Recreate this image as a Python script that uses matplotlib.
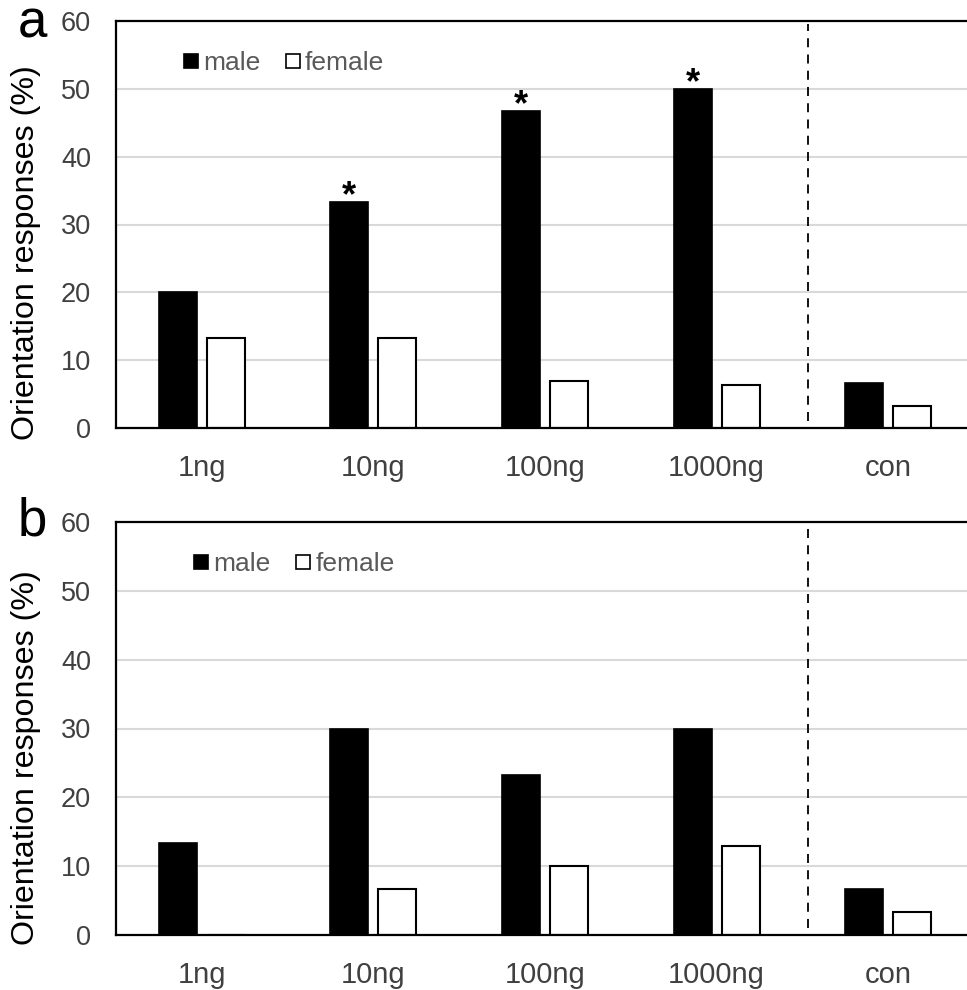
import matplotlib
matplotlib.use("Agg")
import matplotlib.pyplot as plt
import numpy as np
from matplotlib.lines import Line2D

categories = ["1ng", "10ng", "100ng", "1000ng", "con"]
male_a = [20.0, 33.3, 46.7, 50.0, 6.7]
female_a = [13.3, 13.3, 6.9, 6.3, 3.3]
male_b = [13.3, 30.0, 23.3, 30.0, 6.7]
female_b = [0.0, 6.7, 10.0, 13.0, 3.3]
star_a = [False, True, True, True, False]
star_b = [False, False, False, False, False]
yticks = [0, 10, 20, 30, 40, 50, 60]
panel_labels = ["a", "b"]

plt.rcParams['font.family'] = ['Liberation Sans', 'DejaVu Sans']

fig = plt.figure(figsize=(9.67, 9.90), dpi=100)
W, H = 967, 990

def add_panel(top_px, bottom_px, male, female, stars, label, label_base_px, leg_x):
    left = 116 / W
    right = 974 / W
    ax = fig.add_axes([left, 1 - bottom_px / H, right - left, (bottom_px - top_px) / H])
    x = np.arange(len(categories))
    bw = 0.222
    off = 0.14
    ax.bar(x - off, male, bw, color="black", edgecolor="black", linewidth=1.2, zorder=3)
    ax.bar(x + off, female, bw, color="white", edgecolor="black", linewidth=1.5, zorder=3)
    for xi, m, s in zip(x, male, stars):
        if s:
            ax.text(xi - off, m - 0.6, "*", ha="center", va="baseline", fontsize=26,
                    fontweight="bold", color="black", zorder=4)
    ax.set_xlim(-0.5, 4.5)
    ax.set_ylim(0, 60)
    ax.set_yticks(yticks)
    ax.set_xticks(x)
    ax.set_xticklabels(categories)
    ax.tick_params(axis="y", length=0, pad=18, labelsize=19.5, labelcolor="#404040")
    ax.tick_params(axis="x", length=0, pad=19, labelsize=21, labelcolor="#404040")
    ax.grid(axis="y", color="#d9d9d9", linewidth=1.5, zorder=0)
    ax.set_axisbelow(True)
    for sp in ["left", "bottom", "top"]:
        ax.spines[sp].set_color("black")
        ax.spines[sp].set_linewidth(1.6)
    ax.spines["right"].set_visible(False)
    ax.spines["bottom"].set_zorder(5)
    ax.plot([3.53, 3.53], [1.0, 59.5], linestyle=(0, (5, 4)), color="black", linewidth=1.3, zorder=2)
    ax.set_ylabel("Orientation responses (%)", fontsize=23.2, color="black")
    ax.yaxis.set_label_coords(-0.087, 0.43)
    handles = [
        Line2D([], [], marker="s", linestyle="none", markersize=10, markerfacecolor="black",
               markeredgecolor="black", markeredgewidth=1.2),
        Line2D([], [], marker="s", linestyle="none", markersize=10, markerfacecolor="white",
               markeredgecolor="black", markeredgewidth=1.2),
    ]
    ax.legend(handles, ["male", "female"], loc="upper left", bbox_to_anchor=(leg_x, 0.985),
              ncol=2, frameon=False, fontsize=19, handlelength=0.5, handletextpad=0.2,
              columnspacing=1.0, labelcolor="#595959")
    fig.text(18 / W, 1 - label_base_px / H, label, fontsize=38, color="black",
             ha="left", va="baseline")
    return ax

add_panel(21, 428, male_a, female_a, star_a, panel_labels[0], 38, 0.052)
add_panel(522, 935, male_b, female_b, star_b, panel_labels[1], 535, 0.064)

fig.savefig("out.png", dpi=100)
